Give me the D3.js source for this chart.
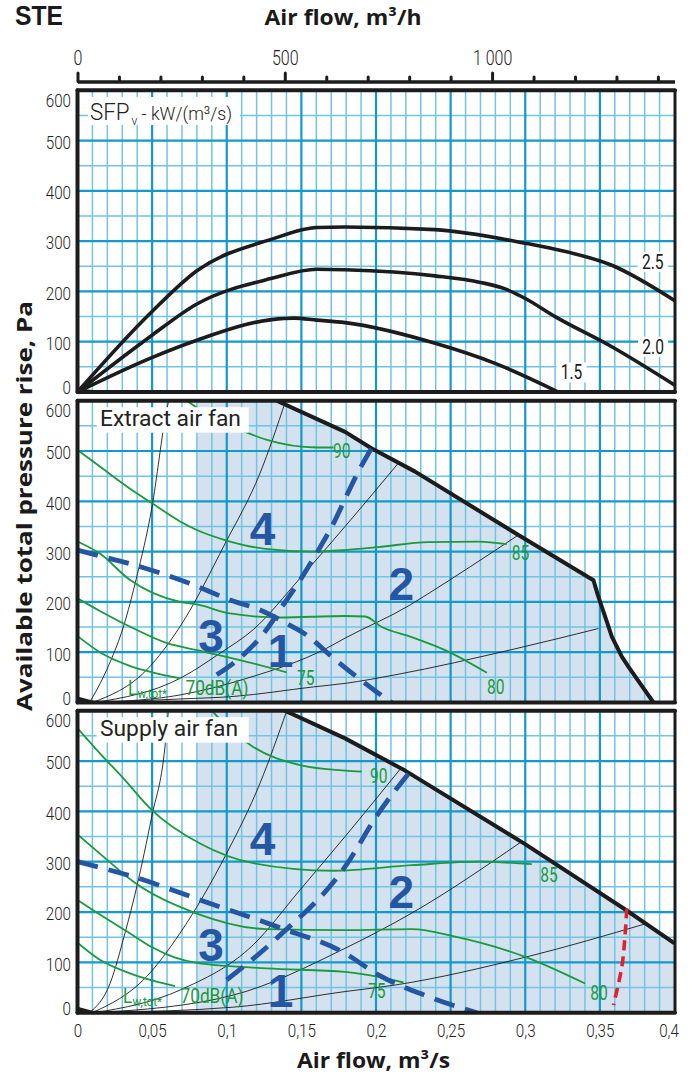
<!DOCTYPE html>
<html><head><meta charset="utf-8">
<script src="https://cdn.jsdelivr.net/npm/d3@7"></script>
<style>html,body{margin:0;padding:0;background:#fff;}svg{display:block}</style>
</head><body>
<svg id="c" width="690" height="1077"></svg>
<script>
// ---------- axes / ticks ----------
const flowTicks=[0,0.05,0.1,0.15,0.2,0.25,0.3,0.35,0.4];
const flowLabels=["0","0,05","0,1","0,15","0,2","0,25","0,3","0,35","0,4"];
const m3hTicks=[0,100,200,300,400,500,600,700,800,900,1000,1100,1200,1300,1400];
const m3hLabelled=[0,500,1000];
const m3hLabels=["0","500","1 000"];
const paTicks=[0,100,200,300,400,500,600];

// ---------- SFP panel (flow m3/s, Pa) ----------
const sfp15=[[0,0],[0.0486,67],[0.08,103],[0.1302,144],[0.145,147],[0.1603,143],[0.1793,138],[0.2396,97],[0.2798,57],[0.3222,0]];
const sfp20=[[0,0],[0.0486,110],[0.08,175],[0.1302,226],[0.1603,244],[0.1793,243],[0.2396,231],[0.27,218],[0.2865,205],[0.30,186],[0.32,150],[0.358,90],[0.4,14]];
const sfp25=[[0,0],[0.0486,156],[0.08,241],[0.1302,304],[0.1603,327],[0.1793,328],[0.2396,323],[0.2999,296],[0.32,284],[0.358,252],[0.4,182]];
const sfpNames=["1.5","2.0","2.5"];
const sfpOrigin=[[0,0],[0,7],[0.024,0]];

// ---------- Extract air fan ----------
const extractLimit=[[0.1335,600],[0.1793,538],[0.1972,505],[0.2262,459],[0.2954,333],[0.3457,243],[0.3485,215],[0.3513,190],[0.355,158],[0.358,131],[0.3647,91],[0.3692,71],[0.3859,0]];
const extractSysA=[[0.008,0],[0.0129,25],[0.0218,80],[0.0307,150],[0.0397,250],[0.0497,385],[0.0598,582],[0.0611,600]];
const extractSysB=[[0.01,0],[0.0464,65],[0.0687,151],[0.0989,316],[0.1223,456],[0.1395,600]];
const extractSysC=[[0.012,0],[0.0687,48],[0.0955,98],[0.1178,145],[0.1491,247],[0.1793,350],[0.215,476]];
const extractSysD=[[0.013,0],[0.0687,15],[0.1134,48],[0.167,108],[0.1793,128],[0.2229,194],[0.2316,210],[0.2954,333]];
const extractSysE=[[0.013,0],[0.0687,7],[0.1044,12],[0.158,31],[0.1793,38],[0.2128,55],[0.2922,106],[0.349,147]];
const extract70=[[0,132],[0.015,100],[0.035,73],[0.05,60],[0.0687,48]];
const extract75=[[0,207],[0.015,182],[0.035,151],[0.06,118],[0.08,104],[0.1134,81],[0.1402,60]];
const extract80=[[0,320],[0.015,296],[0.035,244],[0.0687,200],[0.08,195],[0.1022,177],[0.1357,169],[0.1793,172],[0.1927,171],[0.2039,150],[0.2229,131],[0.2463,104],[0.2743,59]];
const extract85=[[0,502],[0.015,469],[0.0352,425],[0.05,396],[0.0687,360],[0.08,343],[0.0989,323],[0.1245,306],[0.158,300],[0.1793,303],[0.2016,309],[0.235,319],[0.2686,320],[0.2877,315]];
const extract90=[[0.0732,600],[0.09,568],[0.1123,538],[0.127,522],[0.16,507],[0.1715,507]];
const extractDown=[[0,303],[0.013,293],[0.042,270],[0.075,237],[0.1022,204],[0.1223,184],[0.1402,157],[0.1536,134],[0.1692,94],[0.1871,51],[0.2,22],[0.2106,0]];
const extractUp=[[0.0933,55],[0.1123,98],[0.1257,141],[0.1369,190],[0.1491,243],[0.1614,303],[0.1715,356],[0.1804,412],[0.1905,472],[0.1975,508]];
const fanOrigin=[[0,0],[0,12],[0.015,0]];

// ---------- Supply air fan ----------
const supplyLimit=[[0.139,600],[0.1793,545],[0.2195,481],[0.2999,335],[0.367,205],[0.4,138]];
const supplySysA=[[0.008,0],[0.0218,58],[0.0318,158],[0.0397,250],[0.0497,389],[0.0586,528],[0.0609,600]];
const supplySysB=[[0.01,0],[0.0464,72],[0.0687,158],[0.1,317],[0.1223,456],[0.1402,600]];
const supplySysC=[[0.012,0],[0.0687,45],[0.1178,135],[0.1491,244],[0.1793,350],[0.2165,485]];
const supplySysD=[[0.013,0],[0.1044,35],[0.1793,128],[0.224,198],[0.2966,338]];
const supplySysE=[[0.013,0],[0.1044,11],[0.1793,42],[0.2128,55],[0.301,111],[0.381,177]];
const supply70=[[0,139],[0.015,105],[0.0352,78],[0.05,64],[0.0653,53]];
const supply75=[[0,224],[0.015,195],[0.035,158],[0.05,130],[0.065,110],[0.08,99],[0.1268,88],[0.1793,81],[0.2,72],[0.2184,60]];
const supply80=[[0,354],[0.015,316],[0.0389,257],[0.0799,197],[0.1268,166],[0.1793,164],[0.224,166],[0.253,151],[0.2999,111],[0.3401,58]];
const supply85=[[0,565],[0.015,515],[0.03,468],[0.05,402],[0.0821,336],[0.1178,297],[0.1715,282],[0.224,293],[0.2686,300],[0.3044,295]];
const supply90=[[0.0899,600],[0.1,570],[0.1178,528],[0.1491,492],[0.1793,481],[0.1905,479]];
const supplyDown=[[0,300],[0.0408,267],[0.0821,224],[0.1335,171],[0.1793,118],[0.2016,75],[0.2351,32],[0.2676,0]];
const supplyUp=[[0.1,65],[0.1335,148],[0.1793,290],[0.2016,396],[0.2229,479]];
const supplyRed=[[0.368,207],[0.367,158],[0.3647,91],[0.3591,15]];

const regionNames=["1","2","3","4"];
const soundNames=["70dB(A)","75","80","85","90"];

// ---------- layout ----------
const SX=0.8;
const TF="Roboto, 'Liberation Sans', sans-serif";
const BF="'Open Sans', 'Liberation Sans', sans-serif";
const GREEN="#1b9a3c", BLUE="#2456a4", BLACK="#1c1c1c";
const svg=d3.select("#c");
const x=d3.scaleLinear().domain([0,0.4]).range([77.5,674.5]);
const panels=[
 {id:"p0",y0:392,y1:90.3},
 {id:"p1",y0:702.5,y1:400.7},
 {id:"p2",y0:1012.7,y1:710.7}
];
panels.forEach(p=>p.y=d3.scaleLinear().domain([0,600]).range([p.y0,p.y1]));
const defs=svg.append("defs");
panels.forEach(p=>{
  defs.append("clipPath").attr("id","clip"+p.id).append("rect")
   .attr("x",x(0)).attr("y",p.y1).attr("width",x(0.4)-x(0)).attr("height",p.y0-p.y1);
});

function ctext(g,px,py,str,size,fill,opts={}){
  return g.append("text").attr("transform",`translate(${px},${py}) scale(${opts.sx||SX},1)`)
   .attr("font-family",opts.family||TF).attr("font-size",size).attr("fill",fill)
   .attr("font-weight",opts.weight||300).attr("text-anchor",opts.anchor||"start").text(str);
}

function drawGrid(g,p,shade){
  if(shade){
    const poly=[[0.08,0],[0.08,600]].concat(shade).concat([[shade[shade.length-1][0],0]]);
    g.append("path").attr("d",d3.line().x(d=>x(d[0])).y(d=>p.y(d[1]))(poly)+"Z").attr("fill","#d3e2ee");
  }
  const vx=d3.range(1,40).map(i=>({v:i/100,major:i%5===0}));
  const hy=d3.range(1,12).map(i=>({v:i*50,major:i%2===0}));
  [false,true].forEach(maj=>{
    g.selectAll(null).data(vx.filter(d=>d.major===maj)).join("line")
      .attr("x1",d=>x(d.v)).attr("x2",d=>x(d.v)).attr("y1",p.y1).attr("y2",p.y0)
      .attr("stroke",maj?"#1399cb":"#72c4e2").attr("stroke-width",maj?2.2:1.5);
    g.selectAll(null).data(hy.filter(d=>d.major===maj)).join("line")
      .attr("y1",d=>p.y(d.v)).attr("y2",d=>p.y(d.v)).attr("x1",x(0)).attr("x2",x(0.4))
      .attr("stroke",maj?"#1399cb":"#72c4e2").attr("stroke-width",maj?2.2:1.5);
  });
}

function yAxis(p){
  const ax=d3.axisLeft(p.y).tickValues(paTicks).tickSize(0).tickPadding(6.5);
  const ga=svg.append("g").attr("transform",`translate(${x(0)},0)`).call(ax);
  ga.select(".domain").remove();
  ga.attr("font-family",TF).attr("font-size",19).attr("font-weight",300);
  ga.selectAll("text").attr("fill","#222")
    .attr("dy",d=>d===600?"16px":(d===0?"1.5px":"7.8px"))
    .attr("x",-6.5/SX).attr("transform",`scale(${SX},1)`);
}

function border(p){
  const b=svg.append("g").attr("stroke",BLACK).attr("stroke-linecap","round");
  b.append("line").attr("x1",x(0)).attr("x2",x(0.4)+0.5).attr("y1",p.y1).attr("y2",p.y1).attr("stroke-width",4);
  b.append("line").attr("x1",x(0)).attr("x2",x(0.4)+0.5).attr("y1",p.y0).attr("y2",p.y0).attr("stroke-width",4);
  b.append("line").attr("x1",x(0)).attr("x2",x(0)).attr("y1",p.y1).attr("y2",p.y0).attr("stroke-width",4);
  b.append("line").attr("x1",x(0.4)+0.5).attr("x2",x(0.4)+0.5).attr("y1",p.y1).attr("y2",p.y0).attr("stroke-width",3);
}

const lg=(p,c)=>d3.line().x(d=>x(d[0])).y(d=>p.y(d[1])).curve(c||d3.curveMonotoneX);

function whiteBox(g,px,py,w,h){g.append("rect").attr("x",px).attr("y",py).attr("width",w).attr("height",h).attr("fill","#fff");}

function originWedge(p,pts){
  svg.append("path").attr("d",lg(p,d3.curveLinear)(pts)+"Z").attr("fill",BLACK);
}

// ---------- top panel ----------
(function(){
  const p=panels[0];
  const g=svg.append("g").attr("clip-path","url(#clipp0)");
  drawGrid(g,p,null);
  [sfp15,sfp20,sfp25].forEach(s=>{
    g.append("path").attr("d",lg(p)(s)).attr("fill","none").attr("stroke",BLACK).attr("stroke-width",3.6).attr("stroke-linecap","round");
  });
  originWedge(p,sfpOrigin);
  whiteBox(svg,88,97,152,28);
  const t=svg.append("text").attr("x",90).attr("y",119.5).attr("font-family","Roboto, sans-serif").attr("font-weight",300).attr("fill","#222")
    .attr("textLength",142).attr("lengthAdjust","spacingAndGlyphs");
  t.append("tspan").attr("font-size",24).text("SFP");
  t.append("tspan").attr("font-size",13).attr("dy",5).attr("dx",2).text("v");
  t.append("tspan").attr("font-size",19).attr("dy",-5).text(" - kW/(m³/s)");
  const pos=[[0.331,39],[0.3857,90],[0.3854,259]];
  sfpNames.forEach((n,i)=>{
    const cx=x(pos[i][0]), cy=p.y(pos[i][1]);
    whiteBox(svg,cx-15,cy-10,30,20);
    ctext(svg,cx,cy+7,n,19.5,"#1a1a1a",{anchor:"middle",weight:400});
  });
})();

// ---------- fan panels ----------
function fanPanel(p,cfg){
  const g=svg.append("g").attr("clip-path",`url(#clip${p.id})`);
  drawGrid(g,p,cfg.limit);
  cfg.sys.forEach(s=>g.append("path").attr("d",lg(p)(s)).attr("fill","none").attr("stroke","#1a1a1a").attr("stroke-width",0.9));
  cfg.db.forEach(s=>g.append("path").attr("d",lg(p)(s)).attr("fill","none").attr("stroke",GREEN).attr("stroke-width",1.8));
  g.append("path").attr("d",lg(p,d3.curveLinear)(cfg.limit)).attr("fill","none").attr("stroke",BLACK).attr("stroke-width",4).attr("stroke-linejoin","round");
  g.append("path").attr("d",lg(p)(cfg.down)).attr("fill","none").attr("stroke",BLUE).attr("stroke-width",4.8).attr("stroke-dasharray","21,11");
  g.append("path").attr("d",lg(p)(cfg.up)).attr("fill","none").attr("stroke",BLUE).attr("stroke-width",4.8).attr("stroke-dasharray","21,11");
  if(cfg.red) g.append("path").attr("d",lg(p,d3.curveCatmullRom)(cfg.red)).attr("fill","none").attr("stroke","#e3202b").attr("stroke-width",3.6).attr("stroke-dasharray","10,6");
  originWedge(p,fanOrigin);
  cfg.dbPos.forEach((q,i)=>{
    if(i===0){
      const bx=x(q[0]), by=p.y(q[1]);
      ctext(svg,bx,by,"L",20,GREEN,{weight:400,sx:0.85});
      ctext(svg,bx+9.5,by+3.5,"w,tot*",13,GREEN,{weight:400,sx:0.9});
      svg.append("text").attr("x",bx+57.5).attr("y",by).attr("font-family",TF).attr("font-weight",400).attr("font-size",20)
        .attr("fill",GREEN).attr("textLength",63).attr("lengthAdjust","spacingAndGlyphs").text(soundNames[0]);
    } else {
      ctext(svg,x(q[0]),p.y(q[1])+7,soundNames[i],20,GREEN,{weight:400,sx:0.78});
    }
  });
  whiteBox(svg,96.7,p.y1+6.5,152,25.5);
  svg.append("text").attr("x",100).attr("y",p.y1+25.5).attr("font-family","Roboto, sans-serif").attr("font-weight",400)
    .attr("font-size",22).attr("fill","#222").attr("textLength",cfg.titleLen).attr("lengthAdjust","spacingAndGlyphs").text(cfg.title);
  cfg.nums.forEach((q,i)=>{
    svg.append("text").attr("x",x(q[0])).attr("y",p.y(q[1])).attr("dy","0.36em").attr("text-anchor","middle")
      .attr("font-family","'Liberation Sans', Arial, sans-serif").attr("font-weight",700).attr("font-size",46)
      .attr("fill",BLUE).text(regionNames[i]);
  });
}

fanPanel(panels[1],{
  limit:extractLimit,
  sys:[extractSysA,extractSysB,extractSysC,extractSysD,extractSysE],
  db:[extract70,extract75,extract80,extract85,extract90],
  dbPos:[[0.0338,15],[0.147,48],[0.2743,30],[0.291,298],[0.1712,500]],
  down:extractDown, up:extractUp,
  title:"Extract air fan", titleLen:141,
  nums:[[0.136,104],[0.217,236],[0.0895,134],[0.124,347]]
});
fanPanel(panels[2],{
  limit:supplyLimit,
  sys:[supplySysA,supplySysB,supplySysC,supplySysD,supplySysE],
  db:[supply70,supply75,supply80,supply85,supply90],
  dbPos:[[0.0305,20],[0.1947,44],[0.3435,40],[0.31,273],[0.196,471]],
  down:supplyDown, up:supplyUp, red:supplyRed,
  title:"Supply air fan", titleLen:138,
  nums:[[0.136,45],[0.217,240],[0.0895,135],[0.124,347]]
});

panels.forEach(p=>{border(p);yAxis(p);});

// ---------- bottom axis ----------
(function(){
  const p=panels[2];
  const ax=d3.axisBottom(x).tickValues(flowTicks).tickFormat((d,i)=>flowLabels[i]).tickSize(0).tickPadding(11);
  const ga=svg.append("g").attr("transform",`translate(0,${p.y0})`).call(ax);
  ga.select(".domain").remove();
  ga.attr("font-family",TF).attr("font-size",19).attr("font-weight",300);
  ga.selectAll("text").attr("fill","#222").attr("x",(d,i)=>i===flowTicks.length-1?-6/SX:0).attr("transform",`scale(${SX},1)`);
})();

// ---------- top axis (m3/h) ----------
(function(){
  const xh=d3.scaleLinear().domain([0,1440]).range(x.range());
  const ax=d3.axisTop(xh).tickValues(m3hTicks).tickSize(9).tickSizeOuter(0)
    .tickFormat(d=>{const i=m3hLabelled.indexOf(d);return i<0?"":m3hLabels[i];});
  const ga=svg.append("g").attr("transform","translate(0,81.5)").call(ax);
  ga.select(".domain").attr("stroke",BLACK).attr("stroke-width",3.5);
  ga.selectAll(".tick line").attr("stroke",BLACK).attr("stroke-width",3).attr("stroke-linecap","round")
    .attr("y2",d=>m3hLabelled.indexOf(d)<0?-4.5:-8.5);
  ga.attr("font-family",TF).attr("font-size",20).attr("font-weight",300);
  ga.selectAll("text").attr("fill","#222").attr("y",-16.5).attr("dy",0).attr("transform",`scale(${SX},1)`);
})();

// ---------- titles ----------
svg.append("text").attr("x",15).attr("y",25).attr("font-family","'Liberation Sans', Arial, sans-serif").attr("font-weight",700).attr("font-size",27)
  .attr("fill","#1a1a1a").attr("textLength",48).attr("lengthAdjust","spacingAndGlyphs").text("STE");
svg.append("text").attr("x",343).attr("y",25).attr("text-anchor","middle").attr("font-family",BF).attr("font-weight",700)
  .attr("font-size",21).attr("fill","#1a1a1a").attr("textLength",157).attr("lengthAdjust","spacingAndGlyphs").text("Air flow, m³/h");
svg.append("text").attr("x",373.5).attr("y",1068).attr("text-anchor","middle").attr("font-family",BF).attr("font-weight",700)
  .attr("font-size",21).attr("fill","#1a1a1a").attr("textLength",153).attr("lengthAdjust","spacingAndGlyphs").text("Air flow, m³/s");
svg.append("text").attr("transform","translate(32,506) rotate(-90)").attr("text-anchor","middle").attr("font-family",BF)
  .attr("font-weight",700).attr("font-size",21).attr("fill","#1a1a1a").attr("textLength",410).attr("lengthAdjust","spacingAndGlyphs")
  .text("Available total pressure rise, Pa");
</script>
</body></html>
